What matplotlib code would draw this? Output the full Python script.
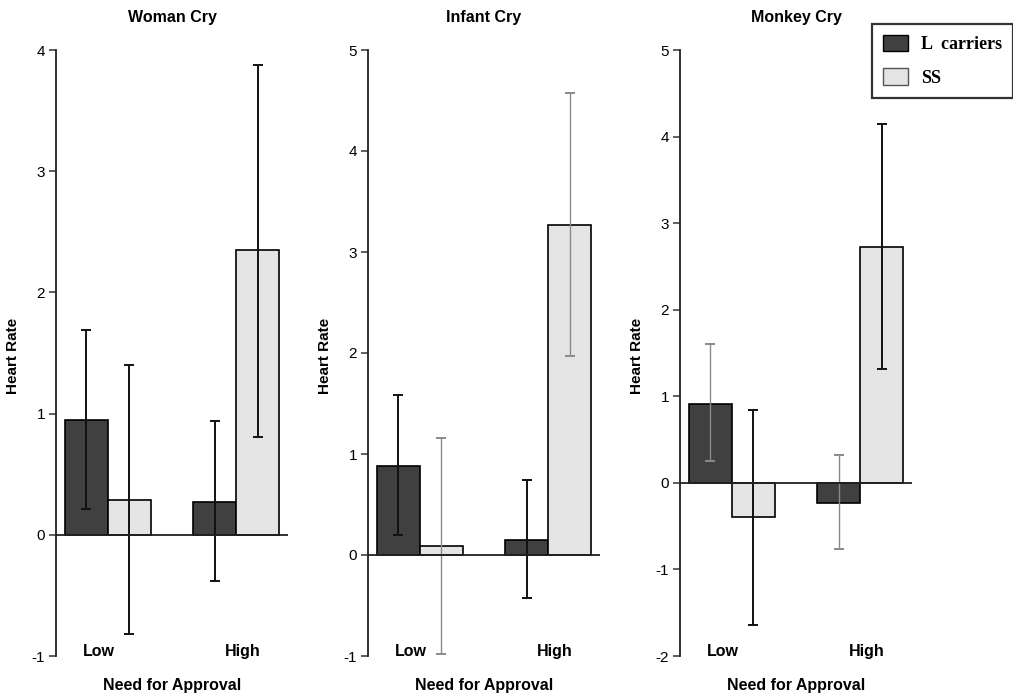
import matplotlib.pyplot as plt
from matplotlib.patches import Patch
import numpy as np

plt.rcParams["axes.unicode_minus"] = False
plt.rcParams["font.family"] = ["Liberation Sans", "DejaVu Sans"]

# bar heights and error-bar ends
panels = ["Woman Cry", "Infant Cry", "Monkey Cry"]
groups = ["Low", "High"]
series = ["L  carriers", "SS"]

l_mean = [[0.95, 0.27], [0.88, 0.15], [0.91, -0.23]]
l_lo = [[0.21, -0.38], [0.20, -0.43], [0.25, -0.76]]
l_hi = [[1.69, 0.94], [1.58, 0.74], [1.60, 0.32]]

ss_mean = [[0.29, 2.35], [0.09, 3.27], [-0.40, 2.73]]
ss_lo = [[-0.82, 0.81], [-0.98, 1.97], [-1.64, 1.32]]
ss_hi = [[1.40, 3.88], [1.16, 4.57], [0.84, 4.15]]

ylims = [(-1, 4), (-1, 5), (-2, 5)]

# which error bars are drawn in grey in the original
l_grey = [[False, False], [False, False], [True, True]]
ss_grey = [[False, False], [True, True], [False, False]]

dark = "#404040"
light = "#e4e4e4"
black = "#111111"
grey = "#8a8a8a"

fig = plt.figure(figsize=(10.13, 6.98), dpi=100)

lefts = [56, 368, 680]
W = 1013.0
H = 698.0

x = np.arange(len(groups))
w = 0.336

for i in range(3):
    ax = fig.add_axes([lefts[i] / W, 1 - 656 / H, 232 / W, 606 / H])
    ymin, ymax = ylims[i]

    ax.bar(x - w / 2, l_mean[i], w, color=dark, edgecolor="black", linewidth=1.2, zorder=2)
    ax.bar(x + w / 2, ss_mean[i], w, color=light, edgecolor="black", linewidth=1.2, zorder=2)

    for j in range(2):
        lm = l_mean[i][j]
        g = l_grey[i][j]
        ax.errorbar(x[j] - w / 2, lm, yerr=[[lm - l_lo[i][j]], [l_hi[i][j] - lm]],
                    fmt="none", ecolor=grey if g else black, elinewidth=1.0 if g else 1.4,
                    capsize=3.5, capthick=1.4, zorder=3)
        sm = ss_mean[i][j]
        g = ss_grey[i][j]
        ax.errorbar(x[j] + w / 2, sm, yerr=[[sm - ss_lo[i][j]], [ss_hi[i][j] - sm]],
                    fmt="none", ecolor=grey if g else black, elinewidth=1.0 if g else 1.4,
                    capsize=3.5, capthick=1.4, zorder=3)

    ax.axhline(0, color="#222222", linewidth=1.3, zorder=4)

    ax.set_xlim(-0.405, 1.405)
    ax.set_ylim(ymin, ymax)
    ax.set_yticks(range(ymin, ymax + 1))
    ax.set_xticks([])
    for s in ["top", "right", "bottom"]:
        ax.spines[s].set_visible(False)
    ax.spines["left"].set_color("#222222")
    ax.spines["left"].set_linewidth(1.3)
    ax.tick_params(axis="y", length=5, width=1.2, color="#444444", labelsize=11, pad=3)

    yl = ymin + 0.04 * (ymax - ymin) / 5
    ax.text(-0.07, yl, groups[0], ha="center", va="center", fontsize=11.5, fontweight="bold")
    ax.text(1.05, yl, groups[1], ha="center", va="center", fontsize=11.5, fontweight="bold")

    ax.set_title(panels[i], fontsize=11.5, fontweight="bold", pad=20)
    ax.set_ylabel("Heart Rate", fontsize=11, fontweight="bold")
    ax.yaxis.set_label_coords(-0.155, 0.495)
    ax.set_xlabel("Need for Approval", fontsize=11.5, fontweight="bold")
    ax.xaxis.set_label_coords(0.5, -0.036)

handles = [Patch(facecolor=dark, edgecolor="black"), Patch(facecolor=light, edgecolor="#555555")]
leg = fig.legend(handles, series, loc="upper right", bbox_to_anchor=(1.0, 1 - 24 / H),
                 borderaxespad=0, frameon=True, fancybox=False, edgecolor="black",
                 borderpad=0.6, handlelength=1.35, handleheight=1.0, handletextpad=0.75,
                 labelspacing=0.85,
                 prop={"family": ["Liberation Serif", "DejaVu Serif"], "weight": "bold", "size": 13})
leg.get_frame().set_linewidth(1.6)

plt.savefig("out.png", dpi=100)
